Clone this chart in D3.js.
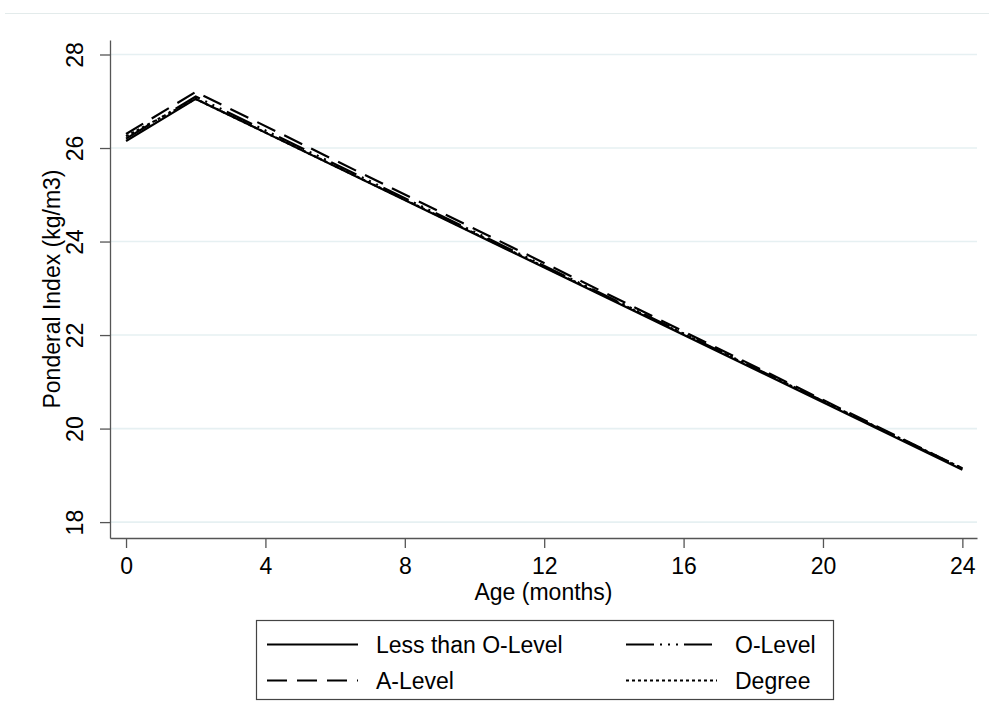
<!DOCTYPE html>
<html>
<head>
<meta charset="utf-8">
<script src="https://cdn.jsdelivr.net/npm/d3@7"></script>
<style>
  html, body { margin: 0; padding: 0; background: #fff; }
  svg text { font-family: "Liberation Sans", Arial, sans-serif; fill: #000; }
</style>
</head>
<body>
<div id="chart"></div>
<script>
// data
const ages = [0, 2, 24];
const lessThanOLevel = [26.15, 27.05, 19.12];
const oLevel = [26.2, 27.1, 19.14];
const aLevel = [26.3, 27.2, 19.15];
const degree = [26.25, 27.05, 19.15];
const seriesNames = ["Less than O-Level", "O-Level", "A-Level", "Degree"];
const xTicks = [0, 4, 8, 12, 16, 20, 24];
const yTicks = [18, 20, 22, 24, 26, 28];

const width = 989, height = 726;
const plot = { left: 110, right: 977, top: 40, bottom: 538 };
const fontSize = "23px";

const svg = d3.select("#chart").append("svg")
  .attr("width", width)
  .attr("height", height);

// faint outer frame edge at top
svg.append("line")
  .attr("x1", 5).attr("x2", width)
  .attr("y1", 13.5).attr("y2", 13.5)
  .attr("stroke", "#e3ebeb").attr("stroke-width", 1);

const x = d3.scaleLinear().domain([-0.46, 24.42]).range([plot.left, plot.right]);
const y = d3.scaleLinear().domain([17.66, 28.31]).range([plot.bottom, plot.top]);

// gridlines
svg.append("g")
  .selectAll("line")
  .data(yTicks)
  .join("line")
  .attr("x1", plot.left).attr("x2", plot.right)
  .attr("y1", d => y(d)).attr("y2", d => y(d))
  .attr("stroke", "#e6f0f2").attr("stroke-width", 1.6);

// axes
const axisColor = "#555";
const xAxis = svg.append("g")
  .attr("transform", `translate(0,${plot.bottom})`)
  .call(d3.axisBottom(x).tickValues(xTicks).tickSize(10).tickSizeOuter(0).tickFormat(d3.format("d")));
xAxis.selectAll("path, line").attr("stroke", axisColor).attr("stroke-width", 1.3);
xAxis.selectAll("text")
  .attr("y", 36).attr("dy", 0)
  .style("font-size", fontSize)
  .style("font-family", '"Liberation Sans", Arial, sans-serif')
  .attr("fill", "#000");

const yAxis = svg.append("g")
  .attr("transform", `translate(${plot.left},0)`)
  .call(d3.axisLeft(y).tickValues(yTicks).tickSize(10).tickSizeOuter(0).tickFormat(d3.format("d")));
yAxis.selectAll("path, line").attr("stroke", axisColor).attr("stroke-width", 1.3);
yAxis.selectAll("text")
  .attr("transform", "rotate(-90)")
  .attr("x", 0).attr("y", -27).attr("dy", 0)
  .attr("text-anchor", "middle")
  .style("font-size", fontSize)
  .style("font-family", '"Liberation Sans", Arial, sans-serif')
  .attr("fill", "#000");

// axis titles
svg.append("text")
  .attr("x", (plot.left + plot.right) / 2)
  .attr("y", 600)
  .attr("text-anchor", "middle")
  .style("font-size", fontSize)
  .text("Age (months)");

svg.append("text")
  .attr("transform", `translate(60,${(plot.top + plot.bottom) / 2}) rotate(-90)`)
  .attr("text-anchor", "middle")
  .style("font-size", fontSize)
  .text("Ponderal Index (kg/m3)");

// series
const dashes = {
  "Less than O-Level": null,
  "O-Level": "28,6,2,6,2,6,2,6",
  "A-Level": "20,10",
  "Degree": "3,3"
};
const valuesByName = {
  "Less than O-Level": lessThanOLevel,
  "O-Level": oLevel,
  "A-Level": aLevel,
  "Degree": degree
};

const line = d3.line()
  .x(d => x(d.age))
  .y(d => y(d.value));

seriesNames.forEach(name => {
  const pts = ages.map((a, i) => ({ age: a, value: valuesByName[name][i] }));
  svg.append("path")
    .datum(pts)
    .attr("fill", "none")
    .attr("stroke", "#000")
    .attr("stroke-width", 2.2)
    .attr("stroke-dasharray", dashes[name])
    .attr("d", line);
});

// legend
const legend = svg.append("g");
legend.append("rect")
  .attr("x", 256.5).attr("y", 620.5)
  .attr("width", 577).attr("height", 79)
  .attr("fill", "#fff")
  .attr("stroke", "#444").attr("stroke-width", 1.2);

const legendItems = [
  { name: "Less than O-Level", col: 0, row: 0 },
  { name: "O-Level", col: 1, row: 0 },
  { name: "A-Level", col: 0, row: 1 },
  { name: "Degree", col: 1, row: 1 }
];
const colX = [267, 626];
const rowY = [644.5, 680.5];

legendItems.forEach(it => {
  const lx = colX[it.col], ly = rowY[it.row];
  legend.append("line")
    .attr("x1", lx).attr("x2", lx + 91)
    .attr("y1", ly).attr("y2", ly)
    .attr("stroke", "#000").attr("stroke-width", 2)
    .attr("stroke-dasharray", dashes[it.name]);
  legend.append("text")
    .attr("x", lx + 109)
    .attr("y", ly + 8.5)
    .style("font-size", fontSize)
    .text(it.name);
});
</script>
</body>
</html>
